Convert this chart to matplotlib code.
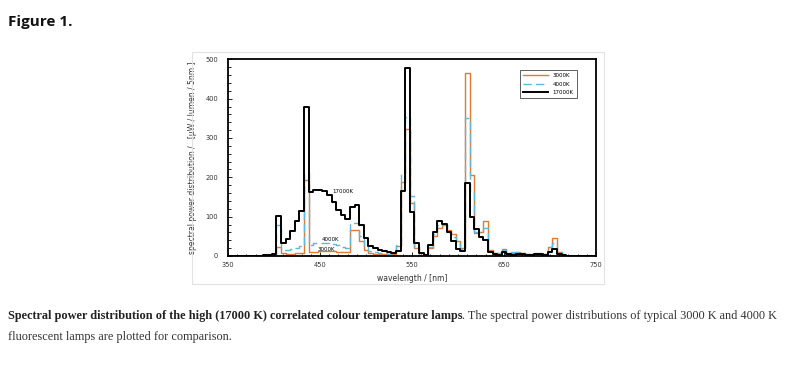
import numpy as np
from matplotlib import pyplot as plt
from matplotlib.patches import Rectangle
from matplotlib.ticker import MultipleLocator

# ***************************** Data *****************************
# 5 nm bins, bin centres
wavelength = np.arange(350, 755, 5)

spd_3000k = [0, 0, 0, 0, 0, 0, 0, 0, 0, 0,
             1, 22, 8, 6, 6, 7, 8, 192, 10, 11,
             12, 12, 12, 12, 11, 9, 9, 65, 65, 38,
             15, 7, 5, 4, 4, 4, 5, 25, 188, 322,
             135, 20, 3, 2, 20, 50, 72, 78, 65, 55,
             38, 20, 465, 205, 58, 62, 90, 15, 8, 8,
             18, 8, 8, 10, 8, 6, 5, 6, 6, 5,
             22, 45, 10, 3, 1, 1, 1, 0, 0, 0, 0]

spd_4000k = [0, 0, 0, 0, 0, 0, 0, 0, 0, 0,
             2, 78, 15, 14, 17, 20, 25, 210, 28, 32,
             34, 34, 33, 31, 28, 22, 20, 83, 83, 50,
             25, 12, 9, 8, 7, 6, 8, 27, 212, 354,
             152, 25, 3, 2, 22, 55, 80, 82, 60, 48,
             30, 18, 352, 162, 62, 62, 72, 13, 8, 7,
             15, 8, 9, 10, 8, 6, 6, 8, 8, 6,
             24, 34, 10, 3, 1, 1, 1, 0, 0, 0, 0]

spd_17000k = [0, 0, 0, 0, 0, 1, 1, 1, 2, 3,
              5, 102, 32, 43, 64, 89, 115, 378, 163, 169,
              169, 166, 155, 138, 117, 104, 93, 125, 130, 80,
              47, 26, 20, 16, 13, 10, 8, 12, 165, 477,
              112, 33, 8, 3, 28, 62, 90, 82, 60, 38,
              18, 12, 186, 100, 68, 48, 40, 10, 4, 3,
              10, 4, 3, 6, 5, 3, 3, 4, 5, 3,
              10, 18, 5, 2, 1, 1, 1, 0, 0, 0, 0]

series_labels = ['3000K', '4000K', '17000K']
x_ticks = [350, 450, 550, 650, 750]
# *****************************************************************

W, H = 800, 370
fig = plt.figure(figsize=(8, 3.7), dpi=100)
fig.patch.set_facecolor('white')

# light frame round the chart panel
fig.patches.append(Rectangle((192 / W, 1 - 284 / H), 412 / W, 232 / H,
                             transform=fig.transFigure, fill=False,
                             edgecolor='#e2e2e2', linewidth=0.8))

ax = fig.add_axes([228 / W, 1 - 256 / H, 368 / W, 196.7 / H])
ax.step(wavelength, spd_3000k, where='mid', color='#e07a35', lw=1.0, label=series_labels[0])
ax.step(wavelength, spd_4000k, where='mid', color='#5fb8e0', lw=1.0,
        dashes=(6, 3), label=series_labels[1])
ax.step(wavelength, spd_17000k, where='mid', color='black', lw=1.4, label=series_labels[2])

ax.axis([350, 750, 0, 500])     # [xmin, xmax, ymin, ymax]
ax.set_xticks(x_ticks)
ax.xaxis.set_minor_locator(MultipleLocator(10))
ax.yaxis.set_major_locator(MultipleLocator(100))
ax.yaxis.set_minor_locator(MultipleLocator(20))
ax.tick_params(which='both', direction='in', labelsize=4.8, labelcolor='#333333', width=0.6)
ax.tick_params(which='major', length=3)
ax.tick_params(which='minor', length=1.8)
ax.tick_params(axis='y', pad=7)
ax.tick_params(axis='x', pad=4.5)
for s in ax.spines.values():
    s.set_linewidth(1.3)

ax.set_xlabel('wavelength / [nm]', fontsize=5.5, color='#333333', labelpad=4)
ax.set_ylabel('spectral power distribution /   [\u03bcW / lumen / 5nm ]', fontsize=5.5,
              color='#333333', labelpad=6)

ax.text(463, 165, '17000K', fontsize=4, va='center', ha='left')
ax.text(452, 42, '4000K', fontsize=4, va='center', ha='left')
ax.text(447, 17, '3000K', fontsize=4, va='center', ha='left')

leg = ax.legend(loc='upper right', bbox_to_anchor=(0.955, 0.96), fontsize=4,
                fancybox=False, edgecolor='#444444', framealpha=1,
                handlelength=4.5, borderpad=0.6, labelspacing=0.6)
leg.get_frame().set_linewidth(0.6)

# ***************************** Texts *****************************
fig.text(8 / W, 1 - 22 / H, 'Figure 1.', fontsize=11, fontweight='bold',
         family='Open Sans', va='center', ha='left', color='#111111')

cap_bold = 'Spectral power distribution of the high (17000 K) correlated colour temperature lamps'
cap_rest = '. The spectral power distributions of typical 3000 K and 4000 K'
cap_line2 = 'fluorescent lamps are plotted for comparison.'
cap_size = 8.85
t1 = fig.text(8 / W, 1 - 316 / H, cap_bold, fontsize=cap_size, fontweight='bold',
              family='Liberation Serif', va='center', ha='left', color='#222222')
renderer = fig.canvas.get_renderer()
bb = t1.get_window_extent(renderer=renderer)
fig.text(bb.x1 / W, 1 - 316 / H, cap_rest, fontsize=cap_size,
         family='Liberation Serif', va='center', ha='left', color='#333333')
fig.text(8 / W, 1 - 337 / H, cap_line2, fontsize=cap_size,
         family='Liberation Serif', va='center', ha='left', color='#333333')

fig.savefig('out.png', dpi=100)
